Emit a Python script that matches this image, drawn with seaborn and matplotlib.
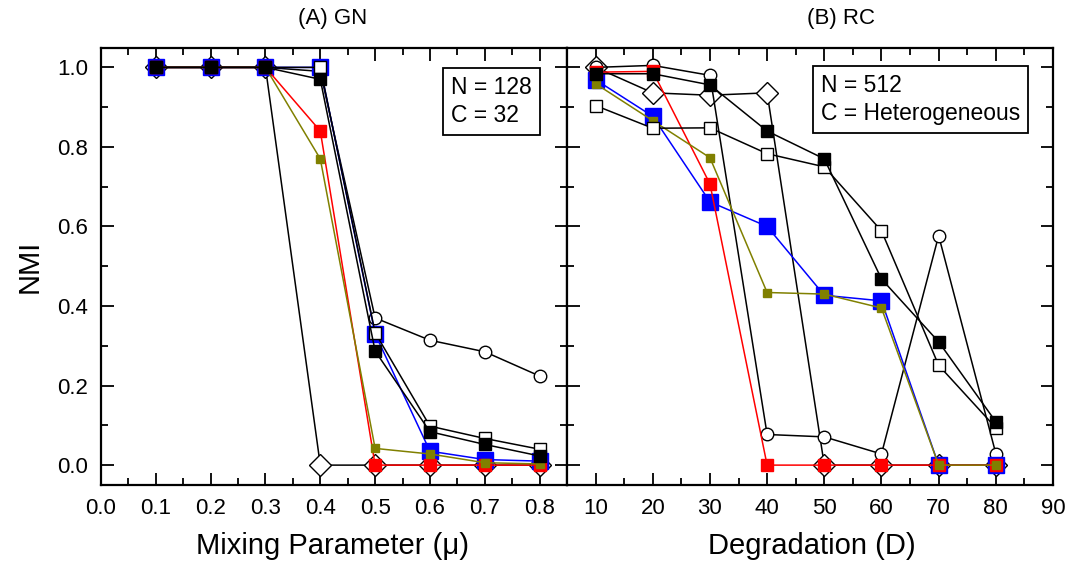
import matplotlib
matplotlib.use("Agg")
import matplotlib.pyplot as plt
from matplotlib.ticker import MultipleLocator, FormatStrFormatter
import seaborn as sns

# ---------------- data ----------------
mu = [0.1, 0.2, 0.3, 0.4, 0.5, 0.6, 0.7, 0.8]
gn_diamond = [1.0, 1.0, 1.0, 0.0, 0.0, 0.0, 0.0, 0.0]
gn_circle = [1.0, 1.0, 1.0, 0.99, 0.37, 0.314, 0.285, 0.224]
gn_blue = [1.0, 1.0, 1.0, 1.0, 0.33, 0.035, 0.014, 0.01]
gn_red = [1.0, 1.0, 1.0, 0.84, 0.0, 0.0, 0.0, 0.0]
gn_olive = [1.0, 1.0, 1.0, 0.77, 0.042, 0.028, 0.006, 0.003]
gn_open = [1.0, 1.0, 1.0, 1.0, 0.333, 0.098, 0.067, 0.04]
gn_black = [1.0, 1.0, 1.0, 0.97, 0.287, 0.084, 0.052, 0.023]

deg = [10, 20, 30, 40, 50, 60, 70, 80]
rc_diamond = [1.0, 0.936, 0.93, 0.936, 0.0, 0.0, 0.0, 0.0]
rc_circle = [1.0, 1.005, 0.98, 0.077, 0.071, 0.028, 0.577, 0.029]
rc_blue = [0.969, 0.877, 0.662, 0.60, 0.427, 0.413, 0.0, 0.0]
rc_red = [0.988, 0.99, 0.707, 0.0, 0.0, 0.0, 0.0, 0.0]
rc_olive = [0.959, 0.866, 0.773, 0.434, 0.43, 0.395, 0.0, 0.0]
rc_open = [0.904, 0.847, 0.848, 0.783, 0.75, 0.589, 0.251, 0.094]
rc_black = [0.984, 0.984, 0.956, 0.84, 0.77, 0.468, 0.31, 0.109]

y_ticks = [0.0, 0.2, 0.4, 0.6, 0.8, 1.0]
gn_xticks = [0.0, 0.1, 0.2, 0.3, 0.4, 0.5, 0.6, 0.7, 0.8]
rc_xticks = [10, 20, 30, 40, 50, 60, 70, 80, 90]

# ---------------- style ----------------
sns.set_style("ticks")
plt.rcParams['font.family'] = ['Liberation Sans', 'DejaVu Sans']
for k in ('text.color', 'axes.labelcolor', 'xtick.color', 'ytick.color', 'axes.edgecolor'):
    plt.rcParams[k] = 'black'

OLIVE = '#808000'
LW = 1.1
styles = [
    # key, marker, ms, face, edge, line color, zorder
    ('diamond', 'D', 11.5, 'white', 'black', 'black', 2),
    ('circle', 'o', 9.0, 'white', 'black', 'black', 3),
    ('blue', 's', 12.0, '#0000ff', '#0000ff', '#0000ff', 4),
    ('red', 's', 8.4, '#ff0000', '#ff0000', '#ff0000', 5),
    ('olive', 's', 6.0, OLIVE, OLIVE, OLIVE, 6),
    ('open', 's', 8.3, 'white', 'black', 'black', 7),
    ('black', 's', 8.0, 'black', 'black', 'black', 8),
]

fig = plt.figure(figsize=(10.83, 5.62), dpi=100)
axA = fig.add_axes([101 / 1083, 1 - 485 / 562, 466 / 1083, 437.5 / 562])
axB = fig.add_axes([567 / 1083, 1 - 485 / 562, 486 / 1083, 437.5 / 562])

gn = {'diamond': gn_diamond, 'circle': gn_circle, 'blue': gn_blue, 'red': gn_red,
      'olive': gn_olive, 'open': gn_open, 'black': gn_black}
rc = {'diamond': rc_diamond, 'circle': rc_circle, 'blue': rc_blue, 'red': rc_red,
      'olive': rc_olive, 'open': rc_open, 'black': rc_black}

for ax, xs, data in [(axA, mu, gn), (axB, deg, rc)]:
    for key, mk, ms, fc, ec, lc, z in styles:
        sns.lineplot(x=xs, y=data[key], ax=ax, color=lc, linewidth=LW,
                     marker=mk, markersize=ms, markerfacecolor=fc,
                     markeredgecolor=ec, markeredgewidth=1.0,
                     sort=False, estimator=None, zorder=z, legend=False)

for ax in (axA, axB):
    ax.set_ylim(-0.05, 1.05)
    ax.set_yticks(y_ticks)
    ax.yaxis.set_minor_locator(MultipleLocator(0.1))
    ax.tick_params(which='both', direction='in', top=True, right=True,
                   width=1.3, labelsize=16, pad=9, colors='black')
    ax.tick_params(which='major', length=9)
    ax.tick_params(which='minor', length=5)
    for sp in ax.spines.values():
        sp.set_linewidth(1.6)
        sp.set_color('black')
        sp.set_visible(True)
    ax.set_xlabel('')
    ax.set_ylabel('')

axA.set_xlim(0, 0.85)
axA.set_xticks(gn_xticks)
axA.xaxis.set_minor_locator(MultipleLocator(0.05))
axA.xaxis.set_major_formatter(FormatStrFormatter('%.1f'))
axA.yaxis.set_major_formatter(FormatStrFormatter('%.1f'))

axB.set_xlim(5, 90)
axB.set_xticks(rc_xticks)
axB.xaxis.set_minor_locator(MultipleLocator(5))
axB.tick_params(labelleft=False)

axA.text(0.498, 1.067, '(A) GN', transform=axA.transAxes, ha='center', va='center', fontsize=16)
axB.text(0.564, 1.067, '(B) RC', transform=axB.transAxes, ha='center', va='center', fontsize=16)

box = dict(boxstyle='square,pad=0.35', facecolor='white', edgecolor='black', linewidth=1.3)
axA.text(0.752, 0.935, 'N = 128\nC = 32', transform=axA.transAxes, ha='left', va='top',
         fontsize=16.5, linespacing=1.3, bbox=box, zorder=20)
axB.text(0.522, 0.94, 'N = 512\nC = Heterogeneous', transform=axB.transAxes, ha='left', va='top',
         fontsize=16.5, linespacing=1.3, bbox=box, zorder=20)

fig.text(333 / 1083, 1 - 546 / 562, 'Mixing Parameter (μ)', ha='center', va='center', fontsize=21)
fig.text(812 / 1083, 1 - 546 / 562, 'Degradation (D)', ha='center', va='center', fontsize=21)
fig.text(30 / 1083, 1 - 266 / 562, 'NMI', ha='center', va='center', rotation=90, fontsize=21)

fig.savefig('out.png', dpi=100, facecolor='white')
